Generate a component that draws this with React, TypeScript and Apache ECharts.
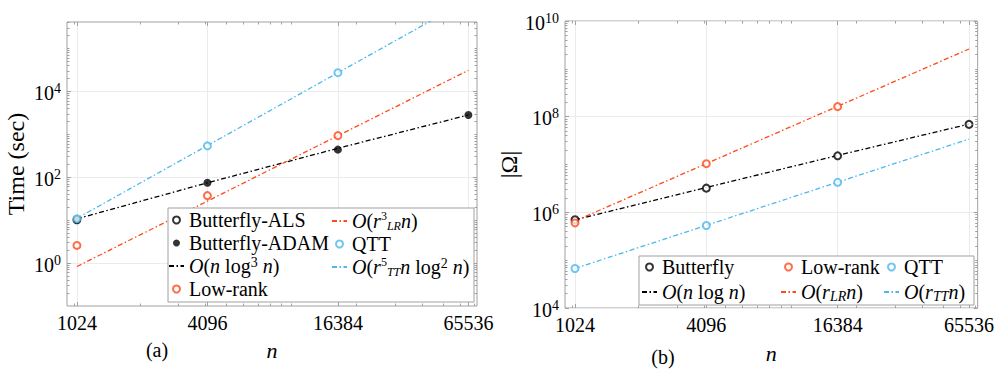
import React, { useEffect, useRef } from "react";
import * as echarts from "echarts";

// ---------- data ----------
const nValues = [1024, 4096, 16384, 65536];
const xTickValues = [1024, 4096, 16384, 65536];

// (a) time in seconds
const timeALS = [10.2];
const timeADAM = [10.2, 74, 438, 2810];
const timeLowRank = [2.57, 37.3, 928];
const timeQTT = [10.7, 535, 27100];
const fitButterflyA = [10.7, 74, 470, 2810];
const fitLowRankA = [0.83, 30800]; // at n = 1024 and 65536
const fitQTTA = [11, 1.34e6]; // at n = 1024 and 65536

// (b) |Omega|
const omegaButterfly = [7.0e5, 3.2e6, 1.52e7, 6.9e7];
const omegaLowRank = [6.0e5, 1.04e7, 1.62e8];
const omegaQTT = [6.7e4, 5.3e5, 4.25e6];
const fitButterflyB = [7.0e5, 3.3e6, 1.55e7, 7.0e7];
const fitLowRankB = [6.6e5, 2.6e9];
const fitQTTB = [6.7e4, 3.4e7];

const yLabelTicksA = [1, 100, 10000];
const yLabelTicksB = [1e4, 1e6, 1e8, 1e10];

// ---------- styles ----------
const SERIF = "Liberation Serif";
const BLACK = "#000000";
const RED = "#ff4a1a";
const BLUE = "#4cb8ee";
const AXIS_GRAY = "#a0a0a0";
const GRID_GRAY = "#ebebeb";
const DASHDOT = [5, 2.5, 1.5, 2.5];

const X_MIN = Math.pow(2, 9.848);
const X_MAX = Math.pow(2, 16.132);

function minorLogTicks(lo: number, hi: number, exclude: number[]) {
  const out: number[] = [];
  for (let e = -2; e <= 11; e++) {
    for (let m = 1; m <= 9; m++) {
      const v = m * Math.pow(10, e);
      if (v > lo * 1.0001 && v < hi * 0.9999) {
        if (!exclude.some((x) => Math.abs(x - v) / v < 1e-6)) out.push(v);
      }
    }
  }
  return out;
}

const xMinorTicks = minorLogTicks(X_MIN, X_MAX, []);

const txt = (size: number, extra: any = {}) => ({
  fontFamily: SERIF,
  fontSize: size,
  fontWeight: "normal",
  color: BLACK,
  ...extra,
});

function makeXAxes(gridIndex: number, nameGap: number) {
  const base = {
    gridIndex,
    type: "log" as const,
    logBase: 2,
    min: X_MIN,
    max: X_MAX,
    axisLine: { show: false },
    minorTick: { show: false },
    minorSplitLine: { show: false },
  };
  const tickStyle = { color: AXIS_GRAY, width: 1 };
  return [
    {
      ...base,
      position: "bottom",
      axisTick: { show: true, inside: true, length: 4, customValues: xTickValues, lineStyle: tickStyle },
      axisLabel: {
        show: true,
        customValues: xTickValues,
        formatter: (v: number) => String(Math.round(v)),
        margin: 7,
        ...txt(20),
      },
      splitLine: { show: true, lineStyle: { color: GRID_GRAY, width: 1 } },
      name: "n",
      nameLocation: "middle",
      nameGap,
      nameTextStyle: txt(22, { fontStyle: "italic" }),
    },
    {
      ...base,
      position: "bottom",
      axisTick: { show: true, inside: true, length: 2.5, customValues: xMinorTicks, lineStyle: tickStyle },
      axisLabel: { show: false },
      splitLine: { show: false },
    },
    {
      ...base,
      position: "top",
      axisTick: { show: true, inside: true, length: 4, customValues: xTickValues, lineStyle: tickStyle },
      axisLabel: { show: false },
      splitLine: { show: false },
    },
    {
      ...base,
      position: "top",
      axisTick: { show: true, inside: true, length: 2.5, customValues: xMinorTicks, lineStyle: tickStyle },
      axisLabel: { show: false },
      splitLine: { show: false },
    },
  ];
}

function makeYAxes(gridIndex: number, lo: number, hi: number, labelTicks: number[], name: string, nameGap: number) {
  const base = {
    gridIndex,
    type: "log" as const,
    logBase: 10,
    min: lo,
    max: hi,
    axisLine: { show: false },
    minorTick: { show: false },
    minorSplitLine: { show: false },
  };
  const minor = minorLogTicks(lo, hi, labelTicks);
  const tickStyle = { color: AXIS_GRAY, width: 1 };
  const sides = ["left", "right"];
  const axes: any[] = [];
  sides.forEach((pos, i) => {
    axes.push({
      ...base,
      position: pos,
      axisTick: { show: true, inside: true, length: 4, customValues: labelTicks, lineStyle: tickStyle },
      axisLabel:
        i === 0
          ? {
              show: true,
              customValues: labelTicks,
              formatter: (v: number) => `{b|10}{s|${Math.round(Math.log10(v))}}`,
              margin: 6,
              ...txt(20),
              rich: {
                b: txt(20, { lineHeight: 20, padding: [3, 0, 0, 0] }),
                s: txt(14, { lineHeight: 12, verticalAlign: "top" }),
              },
            }
          : { show: false },
      splitLine: i === 0 ? { show: true, lineStyle: { color: GRID_GRAY, width: 1 } } : { show: false },
      ...(i === 0 ? { name, nameLocation: "middle", nameGap, nameTextStyle: txt(24) } : {}),
    });
    axes.push({
      ...base,
      position: pos,
      axisTick: { show: true, inside: true, length: 2.5, customValues: minor, lineStyle: tickStyle },
      axisLabel: { show: false },
      splitLine: { show: false },
    });
  });
  return axes;
}

const pair = (xs: number[], ys: number[]) => ys.map((y, i) => [xs[i], y]);
const ends = (ys: number[]) => [
  [nValues[0], ys[0]],
  [nValues[nValues.length - 1], ys[1]],
];

function fitLine(name: string, data: number[][], color: string, xIdx: number, yIdx: number) {
  return {
    name,
    type: "line",
    xAxisIndex: xIdx,
    yAxisIndex: yIdx,
    data,
    symbol: "none",
    showSymbol: false,
    lineStyle: { color, width: 1.3, type: DASHDOT },
    itemStyle: { color },
    z: 2,
  };
}

function markers(name: string, data: number[][], color: string, filled: boolean, xIdx: number, yIdx: number, size = 7) {
  return {
    name,
    type: "scatter",
    xAxisIndex: xIdx,
    yAxisIndex: yIdx,
    data,
    symbol: filled ? "circle" : "emptyCircle",
    symbolSize: size,
    itemStyle: filled ? { color, borderColor: color, borderWidth: 0 } : { color, borderColor: color, borderWidth: 1.4 },
    z: 3,
  };
}

const legendLabels: Record<string, string> = {
  ALS: "Butterfly-ALS",
  ADAM: "Butterfly-ADAM",
  fitB: "{i|O}({i|n} log{sup|3}{i| n})",
  LR: "Low-rank",
  fitLR: "{i|O}({i|r}{sups|3}{subs|LR}{i|n})",
  QTT: "QTT",
  fitQ: "{i|O}({i|r}{sups|5}{subs|TT}{i|n} log{sup|2}{i| n})",
  Bf2: "Butterfly",
  fitB2: "{i|O}({i|n} log {i|n})",
  LR2: "Low-rank",
  fitLR2: "{i|O}({i|r}{sub|LR}{i|n})",
  QTT2: "QTT",
  fitQ2: "{i|O}({i|r}{sub|TT}{i|n})",
};

const lineNames = new Set(["fitB", "fitLR", "fitQ", "fitB2", "fitLR2", "fitQ2"]);

function legendText() {
  return {
    ...txt(20, { lineHeight: 22 }),
    rich: {
      i: txt(20, { lineHeight: 22, fontStyle: "italic" }),
      sup: txt(14, { lineHeight: 12, verticalAlign: "top" }),
      sups: txt(12, { lineHeight: 10, verticalAlign: "top" }),
      subs: txt(12, { lineHeight: 10, verticalAlign: "bottom", fontStyle: "italic" }),
      sub: txt(14, { lineHeight: 12, verticalAlign: "bottom", fontStyle: "italic" }),
    },
  };
}

function legend(names: string[], left: number, top: number, gap: number, itemWidth = 15) {
  return {
    data: names.map((n) => (lineNames.has(n) ? { name: n, itemStyle: { opacity: 0 } } : { name: n })),
    left,
    top,
    orient: "vertical",
    itemGap: gap,
    itemWidth,
    itemHeight: 7,
    padding: 0,
    selectedMode: false,
    formatter: (n: string) => legendLabels[n] ?? n,
    textStyle: legendText(),
    z: 20,
  };
}

export default function App() {
  const ref = useRef<HTMLDivElement>(null);
  useEffect(() => {
    if (!ref.current) return;
    const chart = echarts.init(ref.current, undefined, { renderer: "svg" });

    const xAxes = [...makeXAxes(0, 33), ...makeXAxes(1, 34)];
    const yAxes = [
      ...makeYAxes(0, 0.1, Math.pow(10, 5.614), yLabelTicksA, "Time (sec)", 39),
      ...makeYAxes(1, 1e4, 1e10, yLabelTicksB, "|Ω|", 44),
    ];
    const series = [
      fitLine("fitB", pair(nValues, fitButterflyA), BLACK, 0, 0),
      fitLine("fitLR", ends(fitLowRankA), RED, 0, 0),
      fitLine("fitQ", ends(fitQTTA), BLUE, 0, 0),
      markers("ALS", pair(nValues, timeALS), BLACK, false, 0, 0),
      markers("ADAM", pair(nValues, timeADAM), BLACK, true, 0, 0, 8),
      markers("LR", pair(nValues, timeLowRank), RED, false, 0, 0),
      markers("QTT", pair(nValues, timeQTT), BLUE, false, 0, 0),

      fitLine("fitB2", pair(nValues, fitButterflyB), BLACK, 4, 4),
      fitLine("fitLR2", ends(fitLowRankB), RED, 4, 4),
      fitLine("fitQ2", ends(fitQTTB), BLUE, 4, 4),
      markers("Bf2", pair(nValues, omegaButterfly), BLACK, false, 4, 4),
      markers("LR2", pair(nValues, omegaLowRank), RED, false, 4, 4),
      markers("QTT2", pair(nValues, omegaQTT), BLUE, false, 4, 4),
    ];

    chart.setOption({
      animation: false,
      backgroundColor: "#ffffff",
      textStyle: { fontFamily: SERIF },
      grid: [
        { left: 67, top: 22, width: 410, height: 284, show: true, borderColor: AXIS_GRAY, borderWidth: 1, backgroundColor: "#ffffff", containLabel: false },
        { left: 565, top: 21, width: 413, height: 289, show: true, borderColor: AXIS_GRAY, borderWidth: 1, backgroundColor: "#ffffff", containLabel: false },
      ],
      xAxis: xAxes,
      yAxis: yAxes,
      legend: [
        legend(["ALS", "ADAM", "fitB", "LR"], 168, 209, 1),
        legend(["fitLR", "QTT", "fitQ"], 331, 210, 1),
        legend(["Bf2", "fitB2"], 641, 256, 3),
        legend(["LR2", "fitLR2"], 780, 256, 3),
        legend(["QTT2", "fitQ2"], 883, 256, 3),
      ],
      graphic: [
        { type: "rect", z: 10, shape: { x: 168, y: 208, width: 306, height: 94 }, style: { fill: "#ffffff", stroke: AXIS_GRAY, lineWidth: 1 } },
        { type: "rect", z: 10, shape: { x: 639, y: 256, width: 335, height: 49 }, style: { fill: "#ffffff", stroke: AXIS_GRAY, lineWidth: 1 } },
        { type: "text", z: 10, x: 157, y: 350, style: { text: "(a)", fontFamily: SERIF, fontSize: 20, fill: BLACK, align: "center", verticalAlign: "middle" } },
        { type: "text", z: 10, x: 663, y: 357, style: { text: "(b)", fontFamily: SERIF, fontSize: 20, fill: BLACK, align: "center", verticalAlign: "middle" } },
      ],
      series,
    });
    return () => chart.dispose();
  }, []);
  return (
    <div
      ref={ref}
      style={{ position: "absolute", left: 0, top: 0, width: 997, height: 369, background: "#fff" }}
    />
  );
}
